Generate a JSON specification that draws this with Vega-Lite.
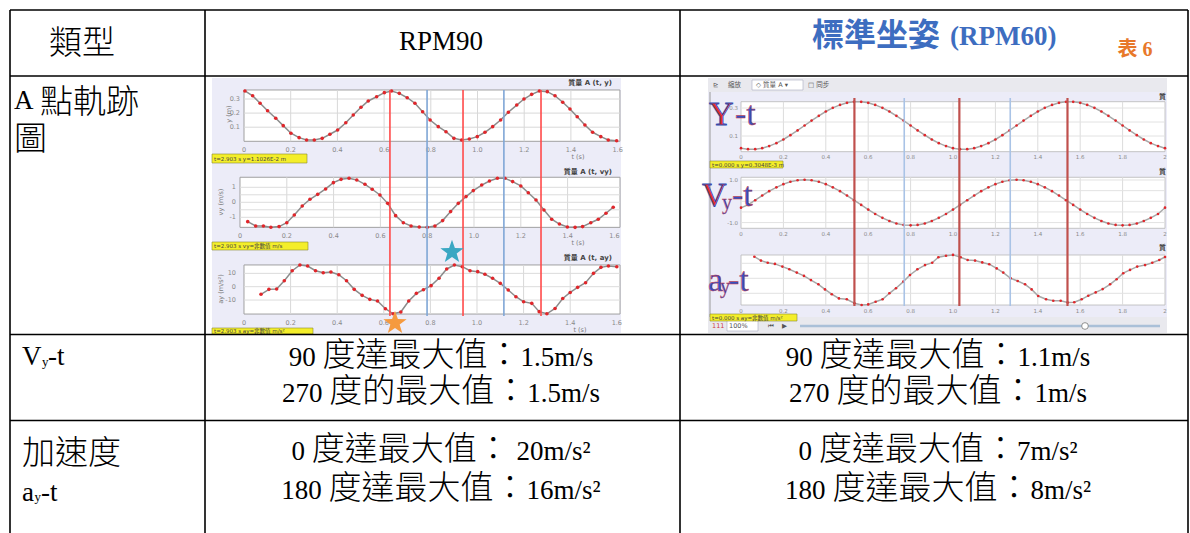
{
"$schema":"https://vega.github.io/schema/vega-lite/v6.json",
"width":1190,"height":533,"autosize":"none","padding":0,"background":"#ffffff",
"config":{"view":{"stroke":null},"text":{"font":"Liberation Serif, Noto Sans CJK TC","baseline":"middle"}},
"resolve":{"scale":{"x":"independent","y":"independent"}},
"datasets":{
"ly":[{"t":0.004,"v":0.357},{"t":0.037,"v":0.323},{"t":0.069,"v":0.27},{"t":0.101,"v":0.217},{"t":0.136,"v":0.163},{"t":0.168,"v":0.111},{"t":0.201,"v":0.057},{"t":0.236,"v":0.026},{"t":0.268,"v":0.009},{"t":0.301,"v":0.009},{"t":0.335,"v":0.021},{"t":0.368,"v":0.05},{"t":0.401,"v":0.08},{"t":0.436,"v":0.132},{"t":0.468,"v":0.187},{"t":0.501,"v":0.241},{"t":0.532,"v":0.286},{"t":0.568,"v":0.316},{"t":0.601,"v":0.345},{"t":0.632,"v":0.357},{"t":0.665,"v":0.34},{"t":0.699,"v":0.309},{"t":0.732,"v":0.27},{"t":0.765,"v":0.21},{"t":0.797,"v":0.151},{"t":0.832,"v":0.104},{"t":0.865,"v":0.068},{"t":0.899,"v":0.021},{"t":0.932,"v":0.009},{"t":0.965,"v":0.016},{"t":0.999,"v":0.033},{"t":1.032,"v":0.064},{"t":1.065,"v":0.104},{"t":1.099,"v":0.151},{"t":1.132,"v":0.206},{"t":1.168,"v":0.257},{"t":1.199,"v":0.3},{"t":1.232,"v":0.333},{"t":1.265,"v":0.357},{"t":1.299,"v":0.352},{"t":1.332,"v":0.323},{"t":1.365,"v":0.277},{"t":1.396,"v":0.229},{"t":1.427,"v":0.174},{"t":1.46,"v":0.116},{"t":1.493,"v":0.064},{"t":1.528,"v":0.033},{"t":1.56,"v":0.009},{"t":1.596,"v":0.004}],
"lv":[{"t":0.033,"v":-1.29},{"t":0.067,"v":-1.58},{"t":0.1,"v":-1.58},{"t":0.132,"v":-1.66},{"t":0.167,"v":-1.62},{"t":0.2,"v":-1.36},{"t":0.232,"v":-0.85},{"t":0.266,"v":-0.25},{"t":0.299,"v":0.2},{"t":0.332,"v":0.53},{"t":0.366,"v":0.89},{"t":0.399,"v":1.31},{"t":0.432,"v":1.53},{"t":0.466,"v":1.6},{"t":0.499,"v":1.49},{"t":0.534,"v":1.2},{"t":0.565,"v":0.87},{"t":0.598,"v":0.49},{"t":0.631,"v":-0.07},{"t":0.665,"v":-0.89},{"t":0.698,"v":-1.36},{"t":0.731,"v":-1.58},{"t":0.766,"v":-1.65},{"t":0.8,"v":-1.66},{"t":0.833,"v":-1.58},{"t":0.866,"v":-1.22},{"t":0.9,"v":-0.62},{"t":0.933,"v":-0.07},{"t":0.966,"v":0.38},{"t":0.997,"v":0.78},{"t":1.033,"v":1.15},{"t":1.066,"v":1.42},{"t":1.1,"v":1.6},{"t":1.132,"v":1.6},{"t":1.165,"v":1.38},{"t":1.2,"v":1.09},{"t":1.232,"v":0.64},{"t":1.265,"v":0.15},{"t":1.299,"v":-0.51},{"t":1.332,"v":-1.13},{"t":1.365,"v":-1.45},{"t":1.399,"v":-1.65},{"t":1.432,"v":-1.67},{"t":1.464,"v":-1.62},{"t":1.499,"v":-1.36},{"t":1.531,"v":-1.13},{"t":1.564,"v":-0.73},{"t":1.595,"v":-0.33}],
"la":[{"t":0.073,"v":-5.7},{"t":0.107,"v":-2},{"t":0.14,"v":-1.7},{"t":0.173,"v":4.5},{"t":0.207,"v":12},{"t":0.24,"v":16.3},{"t":0.273,"v":15.5},{"t":0.307,"v":12},{"t":0.34,"v":10.5},{"t":0.373,"v":11},{"t":0.407,"v":9},{"t":0.44,"v":4.5},{"t":0.473,"v":-2},{"t":0.507,"v":-6.5},{"t":0.54,"v":-9.5},{"t":0.573,"v":-10.7},{"t":0.607,"v":-16.5},{"t":0.64,"v":-20.3},{"t":0.673,"v":-19},{"t":0.707,"v":-10.7},{"t":0.74,"v":-5},{"t":0.77,"v":-2.3},{"t":0.803,"v":0.8},{"t":0.837,"v":6.3},{"t":0.87,"v":13.3},{"t":0.903,"v":16.3},{"t":0.937,"v":15},{"t":0.97,"v":12},{"t":1.003,"v":11.3},{"t":1.034,"v":9.3},{"t":1.067,"v":6.3},{"t":1.1,"v":2.5},{"t":1.134,"v":-2.5},{"t":1.167,"v":-7.5},{"t":1.2,"v":-11.3},{"t":1.235,"v":-12.5},{"t":1.267,"v":-18.7},{"t":1.3,"v":-20.3},{"t":1.335,"v":-16.3},{"t":1.368,"v":-8.8},{"t":1.4,"v":-4.3},{"t":1.432,"v":-0.5},{"t":1.466,"v":3},{"t":1.5,"v":10},{"t":1.532,"v":14.5},{"t":1.564,"v":15.5},{"t":1.6,"v":15}],
"ry":[{"t":0,"v":0.013},{"t":0.033,"v":0.006},{"t":0.067,"v":0.006},{"t":0.1,"v":0.013},{"t":0.133,"v":0.028},{"t":0.167,"v":0.049},{"t":0.2,"v":0.075},{"t":0.233,"v":0.106},{"t":0.267,"v":0.14},{"t":0.3,"v":0.175},{"t":0.333,"v":0.21},{"t":0.367,"v":0.244},{"t":0.4,"v":0.275},{"t":0.433,"v":0.301},{"t":0.467,"v":0.322},{"t":0.5,"v":0.337},{"t":0.533,"v":0.344},{"t":0.567,"v":0.344},{"t":0.6,"v":0.337},{"t":0.633,"v":0.322},{"t":0.667,"v":0.301},{"t":0.7,"v":0.275},{"t":0.733,"v":0.244},{"t":0.767,"v":0.21},{"t":0.8,"v":0.175},{"t":0.833,"v":0.14},{"t":0.867,"v":0.106},{"t":0.9,"v":0.075},{"t":0.933,"v":0.049},{"t":0.967,"v":0.028},{"t":1,"v":0.013},{"t":1.033,"v":0.006},{"t":1.067,"v":0.006},{"t":1.1,"v":0.013},{"t":1.133,"v":0.028},{"t":1.167,"v":0.049},{"t":1.2,"v":0.075},{"t":1.233,"v":0.106},{"t":1.267,"v":0.14},{"t":1.3,"v":0.175},{"t":1.333,"v":0.21},{"t":1.367,"v":0.244},{"t":1.4,"v":0.275},{"t":1.433,"v":0.301},{"t":1.467,"v":0.322},{"t":1.5,"v":0.337},{"t":1.533,"v":0.344},{"t":1.567,"v":0.344},{"t":1.6,"v":0.337},{"t":1.633,"v":0.322},{"t":1.667,"v":0.301},{"t":1.7,"v":0.275},{"t":1.733,"v":0.244},{"t":1.767,"v":0.21},{"t":1.8,"v":0.175},{"t":1.833,"v":0.14},{"t":1.867,"v":0.106},{"t":1.9,"v":0.075},{"t":1.933,"v":0.049},{"t":1.967,"v":0.028},{"t":2,"v":0.013}],
"rv":[{"t":0,"v":-0.3},{"t":0.033,"v":-0.17},{"t":0.067,"v":0.05},{"t":0.1,"v":0.27},{"t":0.133,"v":0.475},{"t":0.167,"v":0.656},{"t":0.2,"v":0.806},{"t":0.233,"v":0.918},{"t":0.267,"v":0.986},{"t":0.3,"v":1.01},{"t":0.333,"v":0.986},{"t":0.367,"v":0.918},{"t":0.4,"v":0.806},{"t":0.433,"v":0.656},{"t":0.467,"v":0.475},{"t":0.5,"v":0.27},{"t":0.533,"v":0.05},{"t":0.567,"v":-0.17},{"t":0.6,"v":-0.39},{"t":0.633,"v":-0.595},{"t":0.667,"v":-0.776},{"t":0.7,"v":-0.926},{"t":0.733,"v":-1.04},{"t":0.767,"v":-1.11},{"t":0.8,"v":-1.13},{"t":0.833,"v":-1.11},{"t":0.867,"v":-1.04},{"t":0.9,"v":-0.926},{"t":0.933,"v":-0.776},{"t":0.967,"v":-0.595},{"t":1,"v":-0.39},{"t":1.033,"v":-0.17},{"t":1.067,"v":0.05},{"t":1.1,"v":0.27},{"t":1.133,"v":0.475},{"t":1.167,"v":0.656},{"t":1.2,"v":0.806},{"t":1.233,"v":0.918},{"t":1.267,"v":0.986},{"t":1.3,"v":1.01},{"t":1.333,"v":0.986},{"t":1.367,"v":0.918},{"t":1.4,"v":0.806},{"t":1.433,"v":0.656},{"t":1.467,"v":0.475},{"t":1.5,"v":0.27},{"t":1.533,"v":0.05},{"t":1.567,"v":-0.17},{"t":1.6,"v":-0.39},{"t":1.633,"v":-0.595},{"t":1.667,"v":-0.776},{"t":1.7,"v":-0.926},{"t":1.733,"v":-1.04},{"t":1.767,"v":-1.11},{"t":1.8,"v":-1.13},{"t":1.833,"v":-1.11},{"t":1.867,"v":-1.04},{"t":1.9,"v":-0.926},{"t":1.933,"v":-0.776},{"t":1.967,"v":-0.595},{"t":2,"v":-0.3}],
"ra":[{"t":0.063,"v":7.2},{"t":0.094,"v":5.9},{"t":0.126,"v":5.2},{"t":0.16,"v":4.8},{"t":0.195,"v":3.9},{"t":0.228,"v":3},{"t":0.263,"v":1.9},{"t":0.297,"v":0.8},{"t":0.33,"v":-0.6},{"t":0.365,"v":-2},{"t":0.396,"v":-3.7},{"t":0.428,"v":-5.3},{"t":0.462,"v":-6.7},{"t":0.499,"v":-7},{"t":0.535,"v":-8.3},{"t":0.569,"v":-8.9},{"t":0.6,"v":-8.7},{"t":0.635,"v":-7.8},{"t":0.668,"v":-7},{"t":0.7,"v":-5},{"t":0.731,"v":-3.3},{"t":0.766,"v":-1.1},{"t":0.797,"v":1.1},{"t":0.832,"v":3},{"t":0.868,"v":4.4},{"t":0.902,"v":5.2},{"t":0.931,"v":7},{"t":0.967,"v":7.5},{"t":1,"v":7.8},{"t":1.036,"v":7},{"t":1.069,"v":6.1},{"t":1.104,"v":5.9},{"t":1.138,"v":5.3},{"t":1.171,"v":4.7},{"t":1.206,"v":3.3},{"t":1.237,"v":1.9},{"t":1.272,"v":0},{"t":1.305,"v":-0.9},{"t":1.34,"v":-2},{"t":1.371,"v":-3.7},{"t":1.402,"v":-5.9},{"t":1.439,"v":-7},{"t":1.473,"v":-7.5},{"t":1.508,"v":-7.5},{"t":1.541,"v":-8.1},{"t":1.572,"v":-8},{"t":1.607,"v":-7},{"t":1.638,"v":-5.8},{"t":1.673,"v":-4.7},{"t":1.706,"v":-3.6},{"t":1.741,"v":-2},{"t":1.772,"v":-0.3},{"t":1.803,"v":1.7},{"t":1.835,"v":2.8},{"t":1.869,"v":3.9},{"t":1.906,"v":4.4},{"t":1.94,"v":5.2},{"t":1.973,"v":6.1},{"t":2,"v":7.1}],
"lxl":[{"t":0,"l":"0"},{"t":0.2,"l":"0.2"},{"t":0.4,"l":"0.4"},{"t":0.6,"l":"0.6"},{"t":0.8,"l":"0.8"},{"t":1.0,"l":"1.0"},{"t":1.2,"l":"1.2"},{"t":1.4,"l":"1.4"},{"t":1.6,"l":"1.6"}],
"rxl":[{"t":0,"l":"0"},{"t":0.2,"l":"0.2"},{"t":0.4,"l":"0.4"},{"t":0.6,"l":"0.6"},{"t":0.8,"l":"0.8"},{"t":1.0,"l":"1.0"},{"t":1.2,"l":"1.2"},{"t":1.4,"l":"1.4"},{"t":1.6,"l":"1.6"},{"t":1.8,"l":"1.8"},{"t":2.0,"l":"2"}]
},
"layer":[
{
"encoding":{"x":{"field":"x","type":"quantitative","scale":{"domain":[0,1190],"nice":false,"zero":false},"axis":null},"y":{"field":"y","type":"quantitative","scale":{"domain":[0,533],"nice":false,"zero":false,"reverse":true},"axis":null}},
"layer":[
{"data":{"values":[{"x":212,"y":78,"x2":621,"y2":333},{"x":708,"y":78,"x2":1167,"y2":333}]},"mark":{"type":"rect","fill":"#ececf8"},"encoding":{"x2":{"field":"x2"},"y2":{"field":"y2"}}},
{"data":{"values":[{"x":708,"y":78,"x2":1167,"y2":92},{"x":708,"y":317,"x2":1167,"y2":333}]},"mark":{"type":"rect","fill":"#e9e9ee"},"encoding":{"x2":{"field":"x2"},"y2":{"field":"y2"}}},
{"data":{"values":[{"x":752,"y":80,"x2":803,"y2":90},{"x":727,"y":320,"x2":758,"y2":331}]},"mark":{"type":"rect","fill":"#ffffff","stroke":"#a8acc0","strokeWidth":0.6},"encoding":{"x2":{"field":"x2"},"y2":{"field":"y2"}}},
{"data":{"values":[{"x":710,"y":92,"x2":710,"y2":317}]},"mark":{"type":"rule","color":"#9a9a9a","strokeWidth":1},"encoding":{"x2":{"field":"x2"},"y2":{"field":"y2"}}},
{"data":{"values":[{"x":800,"y":326,"x2":1160,"y2":326}]},"mark":{"type":"rule","color":"#aac0d8","strokeWidth":2.5},"encoding":{"x2":{"field":"x2"},"y2":{"field":"y2"}}},
{"data":{"values":[{"x":1085,"y":326}]},"mark":{"type":"point","shape":"circle","filled":true,"fill":"#ffffff","stroke":"#777777","strokeWidth":0.8,"size":45,"opacity":1}},
{"data":{"values":[{"x":212,"y":154,"x2":307,"y2":163},{"x":212,"y":242,"x2":308,"y2":250},{"x":212,"y":328,"x2":313,"y2":334},{"x":710,"y":161,"x2":783,"y2":168},{"x":710,"y":314,"x2":797,"y2":321}]},"mark":{"type":"rect","fill":"#f4ee2a","stroke":"#8a8a30","strokeWidth":0.6},"encoding":{"x2":{"field":"x2"},"y2":{"field":"y2"}}},
{"data":{"values":[{"x":214,"y":158.5,"s":"t=2.903 s  y=1.1026E-2 m"},{"x":214,"y":246,"s":"t=2.903 s  vy=非數值 m/s"},{"x":214,"y":331,"s":"t=2.903 s  ay=非數值 m/s²"},{"x":712,"y":164.5,"s":"t=0.000 s  y=0.3048E-3 m"},{"x":712,"y":317.5,"s":"t=0.000 s  ay=非數值 m/s²"}]},"mark":{"type":"text","align":"left","font":"DejaVu Sans, Noto Sans CJK TC","fontSize":5.5,"color":"#444444"},"encoding":{"text":{"field":"s"}}},
{"data":{"values":[{"x":612,"y":83,"s":"質量 A (t, y)"},{"x":612,"y":172,"s":"質量 A (t, vy)"},{"x":612,"y":258,"s":"質量 A (t, ay)"},{"x":1166,"y":97,"s":"質"},{"x":1166,"y":172,"s":"質"},{"x":1166,"y":248,"s":"質"}]},"mark":{"type":"text","align":"right","font":"DejaVu Sans, Noto Sans CJK TC","fontSize":7,"fontWeight":"bold","color":"#444444"},"encoding":{"text":{"field":"s"}}},
{"data":{"values":[{"x":578,"y":157,"s":"t (s)"},{"x":578,"y":243,"s":"t (s)"},{"x":580,"y":330,"s":"t (s)"}]},"mark":{"type":"text","align":"center","font":"DejaVu Sans","fontSize":6.5,"color":"#7a7a7a"},"encoding":{"text":{"field":"s"}}},
{"data":{"values":[{"x":229,"y":114,"s":"y (m)"},{"x":221,"y":202,"s":"vy (m/s)"},{"x":221,"y":289,"s":"ay (m/s²)"}]},"mark":{"type":"text","align":"center","angle":270,"font":"DejaVu Sans","fontSize":6.5,"color":"#7a7a7a"},"encoding":{"text":{"field":"s"}}},
{"data":{"values":[{"x":713,"y":85,"s":"⊵"},{"x":728,"y":85,"s":"縮放"},{"x":756,"y":85,"s":"◇ 質量 A  ▾"},{"x":808,"y":85,"s":"□ 同步"},{"x":729,"y":326,"s":"100%"},{"x":768,"y":326,"s":"⏮"},{"x":782,"y":326,"s":"▶"}]},"mark":{"type":"text","align":"left","font":"DejaVu Sans, Noto Sans CJK TC","fontSize":6.5,"color":"#555555"},"encoding":{"text":{"field":"s"}}},
{"data":{"values":[{"x":712,"y":326,"s":"111"}]},"mark":{"type":"text","align":"left","font":"DejaVu Sans","fontSize":6.5,"color":"#d04040"},"encoding":{"text":{"field":"s"}}},
{"data":{"values":[{"x":10,"y":10,"x2":1188,"y2":10},{"x":10,"y":76,"x2":1188,"y2":76},{"x":10,"y":334.5,"x2":1188,"y2":334.5},{"x":10,"y":420.5,"x2":1188,"y2":420.5},{"x":10,"y":10,"x2":10,"y2":533},{"x":205,"y":10,"x2":205,"y2":533},{"x":680,"y":10,"x2":680,"y2":533},{"x":1188,"y":10,"x2":1188,"y2":533}]},"mark":{"type":"rule","color":"#000000","strokeWidth":1.6},"encoding":{"x2":{"field":"x2"},"y2":{"field":"y2"}}},
{"data":{"values":[{"x":441,"y":50,"s":"RPM90"}]},"mark":{"type":"text","align":"center","baseline":"alphabetic","font":"Liberation Serif","fontSize":27,"color":"#000000"},"encoding":{"text":{"field":"s"}}},
{"data":{"values":[{"x":288.8,"y":366,"s":"90"},{"x":520.5,"y":366,"s":"1.5m/s"},{"x":282,"y":402,"s":"270"},{"x":527.3,"y":402,"s":"1.5m/s"},{"x":785.8,"y":366,"s":"90"},{"x":1017.5,"y":366,"s":"1.1m/s"},{"x":789.1,"y":402,"s":"270"},{"x":1034.4,"y":402,"s":"1m/s"},{"x":291.5,"y":460,"s":"0"},{"x":516.5,"y":460,"s":"20m/s²"},{"x":281.3,"y":499,"s":"180"},{"x":526.6,"y":499,"s":"16m/s²"},{"x":798.6,"y":460,"s":"0"},{"x":1016.9,"y":460,"s":"7m/s²"},{"x":785.1,"y":499,"s":"180"},{"x":1030.4,"y":499,"s":"8m/s²"},{"x":14,"y":109,"s":"A"}]},"mark":{"type":"text","align":"left","baseline":"alphabetic","font":"Liberation Serif","fontSize":27,"color":"#000000"},"encoding":{"text":{"field":"s"}}},
{"data":{"values":[{"x":49,"y":53.5,"s":"類型"},{"x":40,"y":112.5,"s":"點軌跡"},{"x":14,"y":149.5,"s":"圖"},{"x":22,"y":463.5,"s":"加速度"},{"x":322.5,"y":366,"s":"度達最大值："},{"x":329.3,"y":402,"s":"度的最大值："},{"x":819.5,"y":366,"s":"度達最大值："},{"x":836.4,"y":402,"s":"度的最大值："},{"x":311.7,"y":460,"s":"度達最大值："},{"x":328.6,"y":499,"s":"度達最大值："},{"x":818.9,"y":460,"s":"度達最大值："},{"x":832.4,"y":499,"s":"度達最大值："}]},"mark":{"type":"text","align":"left","baseline":"alphabetic","font":"Noto Sans CJK TC","fontWeight":300,"fontSize":33,"color":"#000000"},"encoding":{"text":{"field":"s"}}},
{"data":{"values":[{"x":22,"y":357,"s":"V"},{"x":48,"y":357,"s":"-t"},{"x":22,"y":493,"s":"a"},{"x":41,"y":493,"s":"-t"}]},"mark":{"type":"text","align":"left","font":"Liberation Serif","fontSize":27,"color":"#000000"},"encoding":{"text":{"field":"s"}}},
{"data":{"values":[{"x":42,"y":362,"s":"y"},{"x":34.5,"y":497,"s":"y"}]},"mark":{"type":"text","align":"left","font":"Liberation Serif","fontSize":13,"color":"#000000"},"encoding":{"text":{"field":"s"}}},
{"data":{"values":[{"x":812,"y":46,"s":"標準坐姿"}]},"mark":{"type":"text","align":"left","baseline":"alphabetic","font":"Noto Sans CJK TC","fontSize":32,"fontWeight":"bold","color":"#3d6dc0"},"encoding":{"text":{"field":"s"}}},
{"data":{"values":[{"x":950,"y":45,"s":"(RPM60)"}]},"mark":{"type":"text","align":"left","baseline":"alphabetic","font":"Liberation Serif","fontSize":27,"fontWeight":"bold","color":"#3d6dc0"},"encoding":{"text":{"field":"s"}}},
{"data":{"values":[{"x":1135,"y":50,"s":"表 6"}]},"mark":{"type":"text","align":"center","fontSize":20,"fontWeight":"bold","color":"#e8782a"},"encoding":{"text":{"field":"s"}}}
]
},
{
"encoding":{"x":{"field":"t","type":"quantitative","scale":{"domain":[-1.04497,4.05139],"nice":false,"zero":false},"axis":null},"y":{"field":"v","type":"quantitative","scale":{"domain":[-2.77801,1.00213],"nice":false,"zero":false},"axis":null}},
"layer":[
{"data":{"values":[{"t":0,"v":0}]},"mark":{"type":"rect","fill":"#ffffff","stroke":"#a0a0a0","strokeWidth":1},"encoding":{"x2":{"datum":1.61},"y2":{"datum":0.364}}},
{"data":{"values":[{"t":0.2,"v":0},{"t":0.4,"v":0},{"t":0.6,"v":0},{"t":0.8,"v":0},{"t":1.0,"v":0},{"t":1.2,"v":0},{"t":1.4,"v":0}]},"mark":{"type":"rule","color":"#d8d8d8","strokeWidth":1},"encoding":{"y2":{"datum":0.364}}},
{"data":{"values":[{"t":0,"v":0.1},{"t":0,"v":0.2},{"t":0,"v":0.3}]},"mark":{"type":"rule","color":"#d8d8d8","strokeWidth":1},"encoding":{"x2":{"datum":1.61}}},
{"data":{"name":"lxl"},"transform":[{"calculate":"0","as":"v"}],"mark":{"type":"text","font":"DejaVu Sans","fontSize":6.5,"color":"#8a8a8a","dy":9},"encoding":{"text":{"field":"l"}}},
{"data":{"values":[{"t":0,"v":0.1,"l":"0.1"},{"t":0,"v":0.2,"l":"0.2"},{"t":0,"v":0.3,"l":"0.3"}]},"mark":{"type":"text","align":"right","dx":-4,"font":"DejaVu Sans","fontSize":6.5,"color":"#8a8a8a"},"encoding":{"text":{"field":"l"}}},
{"data":{"name":"ly"},"mark":{"type":"line","color":"#8c8c8c","strokeWidth":1.5}},
{"data":{"name":"ly"},"mark":{"type":"point","filled":true,"color":"#e0262b","size":13,"opacity":1}}
]
},
{
"encoding":{"x":{"field":"t","type":"quantitative","scale":{"domain":[-1.02564,4.05983],"nice":false,"zero":false},"axis":null},"y":{"field":"v","type":"quantitative","scale":{"domain":[-22.0467,13.4867],"nice":false,"zero":false},"axis":null}},
"layer":[
{"data":{"values":[{"t":0,"v":-1.67}]},"mark":{"type":"rect","fill":"#ffffff","stroke":"#a0a0a0","strokeWidth":1},"encoding":{"x2":{"datum":1.624},"y2":{"datum":1.67}}},
{"data":{"values":[{"t":0.2,"v":-1.67},{"t":0.4,"v":-1.67},{"t":0.6,"v":-1.67},{"t":0.8,"v":-1.67},{"t":1.0,"v":-1.67},{"t":1.2,"v":-1.67},{"t":1.4,"v":-1.67}]},"mark":{"type":"rule","color":"#d8d8d8","strokeWidth":1},"encoding":{"y2":{"datum":1.67}}},
{"data":{"values":[{"t":0,"v":-1},{"t":0,"v":-0.5},{"t":0,"v":0},{"t":0,"v":0.5},{"t":0,"v":1}]},"mark":{"type":"rule","color":"#dcdcdc","strokeWidth":1},"encoding":{"x2":{"datum":1.624}}},
{"data":{"name":"lxl"},"transform":[{"calculate":"-1.67","as":"v"}],"mark":{"type":"text","font":"DejaVu Sans","fontSize":6.5,"color":"#8a8a8a","dy":9},"encoding":{"text":{"field":"l"}}},
{"data":{"values":[{"t":0,"v":1,"l":"1"},{"t":0,"v":0,"l":"0"},{"t":0,"v":-1,"l":"-1"}]},"mark":{"type":"text","align":"right","dx":-4,"font":"DejaVu Sans","fontSize":6.5,"color":"#8a8a8a"},"encoding":{"text":{"field":"l"}}},
{"data":{"name":"lv"},"mark":{"type":"line","color":"#8c8c8c","strokeWidth":1.5}},
{"data":{"name":"lv"},"mark":{"type":"point","filled":true,"color":"#e0262b","size":13,"opacity":1}}
]
},
{
"encoding":{"x":{"field":"t","type":"quantitative","scale":{"domain":[-1.04721,4.06009],"nice":false,"zero":false},"axis":null},"y":{"field":"v","type":"quantitative","scale":{"domain":[-184.725,215.025],"nice":false,"zero":false},"axis":null}},
"layer":[
{"data":{"values":[{"t":0,"v":-20.5}]},"mark":{"type":"rect","fill":"#ffffff","stroke":"#a0a0a0","strokeWidth":1},"encoding":{"x2":{"datum":1.614},"y2":{"datum":16.3}}},
{"data":{"values":[{"t":0.2,"v":-20.5},{"t":0.4,"v":-20.5},{"t":0.6,"v":-20.5},{"t":0.8,"v":-20.5},{"t":1.0,"v":-20.5},{"t":1.2,"v":-20.5},{"t":1.4,"v":-20.5}]},"mark":{"type":"rule","color":"#d8d8d8","strokeWidth":1},"encoding":{"y2":{"datum":16.3}}},
{"data":{"values":[{"t":0,"v":-10},{"t":0,"v":0},{"t":0,"v":10}]},"mark":{"type":"rule","color":"#dcdcdc","strokeWidth":1},"encoding":{"x2":{"datum":1.614}}},
{"data":{"name":"lxl"},"transform":[{"calculate":"-20.5","as":"v"}],"mark":{"type":"text","font":"DejaVu Sans","fontSize":6.5,"color":"#8a8a8a","dy":9},"encoding":{"text":{"field":"l"}}},
{"data":{"values":[{"t":0,"v":10,"l":"10"},{"t":0,"v":0,"l":"0"},{"t":0,"v":-10,"l":"-10"}]},"mark":{"type":"text","align":"right","dx":-8,"font":"DejaVu Sans","fontSize":6.5,"color":"#8a8a8a"},"encoding":{"text":{"field":"l"}}},
{"data":{"name":"la"},"mark":{"type":"line","color":"#8c8c8c","strokeWidth":1.5}},
{"data":{"name":"la"},"mark":{"type":"point","filled":true,"color":"#e0262b","size":13,"opacity":1}}
]
},
{
"encoding":{"x":{"field":"t","type":"quantitative","scale":{"domain":[-3.49528,2.11792],"nice":false,"zero":false},"axis":null},"y":{"field":"v","type":"quantitative","scale":{"domain":[-2.73571,1.07143],"nice":false,"zero":false},"axis":null}},
"layer":[
{"data":{"values":[{"t":0,"v":-0.012}]},"mark":{"type":"rect","fill":"#ffffff","stroke":"#b8b8b8","strokeWidth":0.8},"encoding":{"x2":{"datum":2.0},"y2":{"datum":0.345}}},
{"data":{"values":[{"t":0.2,"v":-0.012},{"t":0.4,"v":-0.012},{"t":0.6,"v":-0.012},{"t":0.8,"v":-0.012},{"t":1.0,"v":-0.012},{"t":1.2,"v":-0.012},{"t":1.4,"v":-0.012},{"t":1.6,"v":-0.012},{"t":1.8,"v":-0.012}]},"mark":{"type":"rule","color":"#dcdcdc","strokeWidth":1},"encoding":{"y2":{"datum":0.345}}},
{"data":{"values":[{"t":0,"v":0.1},{"t":0,"v":0.2},{"t":0,"v":0.3}]},"mark":{"type":"rule","color":"#e2e2e2","strokeWidth":1},"encoding":{"x2":{"datum":2.0}}},
{"data":{"name":"rxl"},"transform":[{"calculate":"-0.012","as":"v"}],"mark":{"type":"text","font":"DejaVu Sans","fontSize":5.5,"color":"#8a8a8a","dy":5},"encoding":{"text":{"field":"l"}}},
{"data":{"values":[{"t":0,"v":0.3,"l":"0.3"},{"t":0,"v":0.1,"l":"0.1"}]},"mark":{"type":"text","align":"right","dx":-3,"font":"DejaVu Sans","fontSize":5.5,"color":"#8a8a8a"},"encoding":{"text":{"field":"l"}}},
{"data":{"name":"ry"},"mark":{"type":"line","color":"#a8a8a8","strokeWidth":1.5}},
{"data":{"name":"ry"},"mark":{"type":"point","filled":true,"color":"#e0262b","size":7,"opacity":1}}
]
},
{
"encoding":{"x":{"field":"t","type":"quantitative","scale":{"domain":[-3.49528,2.11792],"nice":false,"zero":false},"axis":null},"y":{"field":"v","type":"quantitative","scale":{"domain":[-15.5728,9.4507],"nice":false,"zero":false},"axis":null}},
"layer":[
{"data":{"values":[{"t":0,"v":-1.268}]},"mark":{"type":"rect","fill":"#ffffff","stroke":"#b8b8b8","strokeWidth":0.8},"encoding":{"x2":{"datum":2.0},"y2":{"datum":1.127}}},
{"data":{"values":[{"t":0.2,"v":-1.268},{"t":0.4,"v":-1.268},{"t":0.6,"v":-1.268},{"t":0.8,"v":-1.268},{"t":1.0,"v":-1.268},{"t":1.2,"v":-1.268},{"t":1.4,"v":-1.268},{"t":1.6,"v":-1.268},{"t":1.8,"v":-1.268}]},"mark":{"type":"rule","color":"#dcdcdc","strokeWidth":1},"encoding":{"y2":{"datum":1.127}}},
{"data":{"values":[{"t":0,"v":-1},{"t":0,"v":-0.5},{"t":0,"v":0},{"t":0,"v":0.5},{"t":0,"v":1}]},"mark":{"type":"rule","color":"#e2e2e2","strokeWidth":1},"encoding":{"x2":{"datum":2.0}}},
{"data":{"name":"rxl"},"transform":[{"calculate":"-1.268","as":"v"}],"mark":{"type":"text","font":"DejaVu Sans","fontSize":5.5,"color":"#8a8a8a","dy":6},"encoding":{"text":{"field":"l"}}},
{"data":{"values":[{"t":0,"v":1,"l":"1.0"},{"t":0,"v":-1,"l":"-1.0"}]},"mark":{"type":"text","align":"right","dx":-3,"font":"DejaVu Sans","fontSize":5.5,"color":"#8a8a8a"},"encoding":{"text":{"field":"l"}}},
{"data":{"name":"rv"},"mark":{"type":"line","color":"#a8a8a8","strokeWidth":1.5}},
{"data":{"name":"rv"},"mark":{"type":"point","filled":true,"color":"#e0262b","size":7,"opacity":1}}
]
},
{
"encoding":{"x":{"field":"t","type":"quantitative","scale":{"domain":[-3.49528,2.11792],"nice":false,"zero":false},"axis":null},"y":{"field":"v","type":"quantitative","scale":{"domain":[-84.9,92.7667],"nice":false,"zero":false},"axis":null}},
"layer":[
{"data":{"values":[{"t":0,"v":-8.9}]},"mark":{"type":"rect","fill":"#ffffff","stroke":"#b8b8b8","strokeWidth":0.8},"encoding":{"x2":{"datum":2.0},"y2":{"datum":7.77}}},
{"data":{"values":[{"t":0.2,"v":-8.9},{"t":0.4,"v":-8.9},{"t":0.6,"v":-8.9},{"t":0.8,"v":-8.9},{"t":1.0,"v":-8.9},{"t":1.2,"v":-8.9},{"t":1.4,"v":-8.9},{"t":1.6,"v":-8.9},{"t":1.8,"v":-8.9}]},"mark":{"type":"rule","color":"#dcdcdc","strokeWidth":1},"encoding":{"y2":{"datum":7.77}}},
{"data":{"values":[{"t":0,"v":-5},{"t":0,"v":0},{"t":0,"v":5}]},"mark":{"type":"rule","color":"#e2e2e2","strokeWidth":1},"encoding":{"x2":{"datum":2.0}}},
{"data":{"name":"rxl"},"transform":[{"calculate":"-8.9","as":"v"}],"mark":{"type":"text","font":"DejaVu Sans","fontSize":5.5,"color":"#8a8a8a","dy":6},"encoding":{"text":{"field":"l"}}},
{"data":{"name":"ra"},"mark":{"type":"line","color":"#a8a8a8","strokeWidth":1.5}},
{"data":{"name":"ra"},"mark":{"type":"point","filled":true,"color":"#e0262b","size":7,"opacity":1}}
]
},
{
"encoding":{"x":{"field":"t","type":"quantitative","scale":{"domain":[-1.04497,4.05139],"nice":false,"zero":false},"axis":null},"y":{"datum":90,"type":"quantitative","scale":{"domain":[0,533],"nice":false,"zero":false,"reverse":true},"axis":null},"y2":{"datum":316}},
"layer":[
{"data":{"values":[{"t":0.784},{"t":1.113}]},"mark":{"type":"rule","color":"#7fa6d6","strokeWidth":1.6}},
{"data":{"values":[{"t":0.625},{"t":0.938},{"t":1.272}]},"mark":{"type":"rule","color":"#ff4a4a","strokeWidth":1.6}}
]
},
{
"encoding":{"x":{"field":"t","type":"quantitative","scale":{"domain":[-3.49528,2.11792],"nice":false,"zero":false},"axis":null},"y":{"datum":98,"type":"quantitative","scale":{"domain":[0,533],"nice":false,"zero":false,"reverse":true},"axis":null},"y2":{"datum":306}},
"layer":[
{"data":{"values":[{"t":0.77},{"t":1.27}]},"mark":{"type":"rule","color":"#a9c3e6","strokeWidth":1.6}},
{"data":{"values":[{"t":0.535},{"t":1.03},{"t":1.54}]},"mark":{"type":"rule","color":"#c0504d","strokeWidth":2.2}}
]
},
{
"encoding":{"x":{"field":"x","type":"quantitative","scale":{"domain":[0,1190],"nice":false,"zero":false},"axis":null},"y":{"field":"y","type":"quantitative","scale":{"domain":[0,533],"nice":false,"zero":false,"reverse":true},"axis":null}},
"layer":[
{"data":{"values":[{"x":452,"y":252}]},"mark":{"type":"point","shape":"M0,-1L0.235,-0.324L0.951,-0.309L0.38,0.124L0.588,0.809L0,0.4L-0.588,0.809L-0.38,0.124L-0.951,-0.309L-0.235,-0.324Z","filled":true,"fill":"#3aa7c3","size":600,"opacity":1,"strokeWidth":0}},
{"data":{"values":[{"x":395,"y":323}]},"mark":{"type":"point","shape":"M0,-1L0.235,-0.324L0.951,-0.309L0.38,0.124L0.588,0.809L0,0.4L-0.588,0.809L-0.38,0.124L-0.951,-0.309L-0.235,-0.324Z","filled":true,"fill":"#f59a3f","size":600,"opacity":1,"strokeWidth":0}},
{"data":{"values":[{"x":709,"y":115,"s":"Y"},{"x":702,"y":196,"s":"V"}]},"mark":{"type":"text","align":"left","font":"Liberation Serif","fontSize":34,"fill":"#e0302c","stroke":"#2b4db5","strokeWidth":0.8},"encoding":{"text":{"field":"s"}}},
{"data":{"values":[{"x":735,"y":115,"s":"-t"},{"x":732,"y":196,"s":"-t"},{"x":708,"y":281,"s":"a"},{"x":728,"y":281,"s":"-t"}]},"mark":{"type":"text","align":"left","font":"Liberation Serif","fontSize":34,"fill":"#3551c0","stroke":"#d03030","strokeWidth":0.4},"encoding":{"text":{"field":"s"}}},
{"data":{"values":[{"x":722,"y":203,"s":"y"},{"x":720,"y":287,"s":"y"}]},"mark":{"type":"text","align":"left","font":"Liberation Serif","fontSize":20,"fill":"#3551c0","stroke":"#d03030","strokeWidth":0.3},"encoding":{"text":{"field":"s"}}}
]
}
]
}
